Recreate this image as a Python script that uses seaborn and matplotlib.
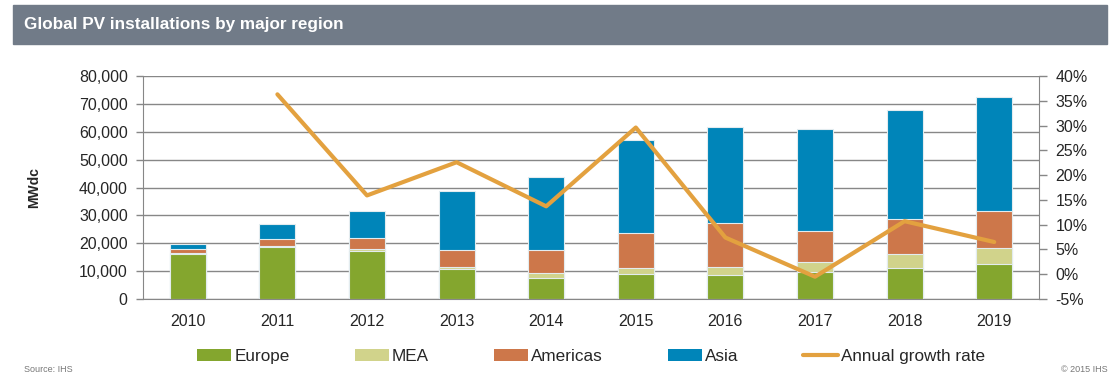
import numpy as np
import pandas as pd
import matplotlib
matplotlib.use('Agg')
import matplotlib.pyplot as plt
import seaborn as sns
from matplotlib.patches import Rectangle, Patch
from matplotlib.lines import Line2D
from matplotlib.ticker import FuncFormatter, MultipleLocator, FixedLocator

# data (MWdc)
years = ['2010', '2011', '2012', '2013', '2014', '2015', '2016', '2017', '2018', '2019']
europe = [16200, 18800, 17300, 10900, 7650, 9100, 8700, 9550, 11200, 12650]
mea = [300, 300, 500, 700, 1550, 2000, 2750, 3850, 4950, 5500]
americas = [1300, 2400, 4000, 6100, 8250, 12550, 15800, 11000, 12650, 13400]
asia = [1900, 5400, 9600, 20900, 26350, 33350, 34350, 36650, 39050, 40850]
# annual growth rate in %
growth = [np.nan, 36.3, 15.9, 22.6, 13.7, 29.6, 7.4, -0.5, 10.7, 6.5]

series_names = ['Europe', 'MEA', 'Americas', 'Asia']
colors = ['#84a62e', '#d1d38b', '#cd774a', '#0085b9']
line_color = '#e3a13f'
grey = '#878787'

sns.set_style('white')
plt.rcParams['font.family'] = ['Liberation Sans', 'DejaVu Sans']

df = pd.DataFrame({'year': years, 'Europe': europe, 'MEA': mea,
                   'Americas': americas, 'Asia': asia, 'growth': growth})
# cumulative tops for stacked look
cum = df[series_names].cumsum(axis=1)

fig = plt.figure(figsize=(11.2, 3.79), dpi=100)
W, H = 1120, 379

# title banner
fig.patches.append(Rectangle((13 / W, 1 - 43.6 / H), 1094 / W, 38.2 / H,
                             transform=fig.transFigure, color='#717b88', zorder=0))
fig.text(24 / W, 1 - 24.5 / H, 'Global PV installations by major region', color='white',
         fontsize=12.3, fontweight='bold', va='center', ha='left')

ax = fig.add_axes([143 / W, 1 - 299 / H, 896 / W, 223 / H])

# draw stacked bars tallest first
for name, col in zip(series_names[::-1], colors[::-1]):
    sns.barplot(x=df['year'], y=cum[name], color=col, width=0.4, ax=ax,
                edgecolor='#e3ecef', linewidth=0.8, saturation=1, zorder=2)

ax.set_ylim(0, 80000)
ax.set_xlim(-0.5, len(years) - 0.5)
ax.yaxis.set_major_locator(MultipleLocator(10000))
ax.yaxis.set_major_formatter(FuncFormatter(lambda v, p: f'{int(v):,}'))
ax.grid(axis='y', color=grey, linewidth=1)
ax.set_axisbelow(True)
ax.set_xlabel('')
ax.set_ylabel('MWdc', fontsize=10, fontweight='bold', labelpad=27)
ax.xaxis.set_minor_locator(FixedLocator(np.arange(-0.5, len(years), 1)))
ax.tick_params(axis='x', which='major', length=0, labelsize=11.5, pad=11)
ax.tick_params(axis='x', which='minor', length=5, color=grey, width=1)
ax.tick_params(axis='y', length=5, color=grey, width=1, labelsize=11.5, pad=6)
for s in ['left', 'bottom']:
    ax.spines[s].set_color(grey)
for s in ['top', 'right']:
    ax.spines[s].set_visible(False)

ax2 = ax.twinx()
sns.lineplot(x=np.arange(len(years)), y=df['growth'], color=line_color,
             linewidth=3, ax=ax2, zorder=5)
ax2.set_ylim(-5, 40)
ax2.yaxis.set_major_locator(MultipleLocator(5))
ax2.yaxis.set_major_formatter(FuncFormatter(lambda v, p: f'{int(round(v))}%'))
ax2.set_ylabel('')
ax2.tick_params(axis='y', length=6, color=grey, width=1, labelsize=11.5, pad=6)
ax2.spines['right'].set_color(grey)
for s in ['top', 'left', 'bottom']:
    ax2.spines[s].set_visible(False)
ax2.grid(False)

handles = [Patch(facecolor=c, edgecolor='none') for c in colors]
handles.append(Line2D([0], [0], color=line_color, linewidth=3))
fig.legend(handles, series_names + ['Annual growth rate'], loc='center',
           bbox_to_anchor=(591 / W, 1 - 356.5 / H), ncol=5, frameon=False,
           fontsize=12.3, handlelength=2.0, handleheight=0.65, handletextpad=0.18,
           columnspacing=3.8)

fig.text(24 / W, 1 - 370 / H, 'Source: IHS', color='#777777', fontsize=6.5, va='center')
fig.text(1108 / W, 1 - 370 / H, '\u00a9 2015 IHS', color='#777777', fontsize=6.5,
         va='center', ha='right')

fig.savefig('out.png', dpi=100)
